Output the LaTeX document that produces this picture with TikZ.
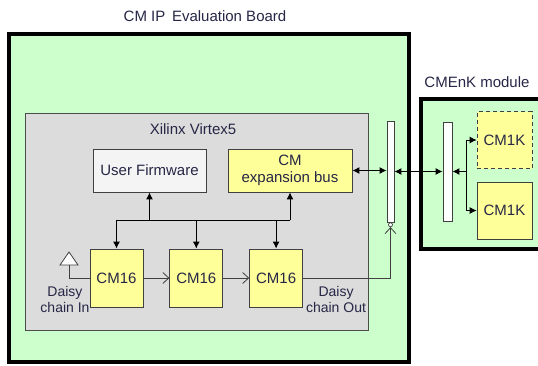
\documentclass[tikz,border=0pt]{standalone}
\usepackage{fontspec}
\setmainfont{Liberation Sans}
\usetikzlibrary{arrows.meta, positioning}
\definecolor{boardgreen}{HTML}{CCFFCC}
\definecolor{fpgagray}{HTML}{DCDCDC}
\definecolor{cmyellow}{HTML}{FFFF99}
\definecolor{fwwhite}{HTML}{F4F4F4}
\definecolor{ink}{HTML}{262646}
\tikzset{
  board/.style={draw=black, line width=3.5pt, fill=boardgreen},
  fpga/.style={draw=black!70, line width=0.8pt, fill=fpgagray},
  chip/.style={rectangle, draw=black!75, line width=0.8pt, fill=cmyellow,
               text=ink, align=center, inner sep=0pt,
               font=\fontsize{15}{17}\selectfont},
  cmbox/.style={chip, minimum width=53pt, minimum height=58pt},
  kbox/.style={chip, minimum width=55pt, minimum height=57pt},
  conn/.style={rectangle, draw=black!75, line width=0.8pt, fill=white,
               minimum width=7pt, minimum height=101pt, inner sep=0pt},
  caption/.style={text=ink, align=center, font=\fontsize{15}{17}\selectfont},
  small/.style={text=ink, align=center, font=\fontsize{14}{16}\selectfont},
  bus/.style={line width=1pt, draw=black},
  busarrow/.style={bus, -{Latex[length=7pt,width=7pt]}},
  twoway/.style={bus, {Latex[length=7pt,width=7pt]}-{Latex[length=7pt,width=7pt]}},
  daisy/.style={line width=0.8pt, draw=black!75, -{Straight Barb[length=6pt,width=11pt]}},
}
\begin{document}
\begin{tikzpicture}[x=1pt, y=-1pt, node distance=26pt]
  \useasboundingbox (0,0) rectangle (538,365);
  \clip (0,0) rectangle (538,365);

  % boards
  \node [caption] (boardtitle) at (205,16) {CM IP\, Evaluation Board};
  \draw [board] (9,34) rectangle (409,362);
  \node [caption] (modtitle) at (477,82) {CMEnK module};
  \draw [board] (421,99) rectangle (548,249);

  % FPGA
  \draw [fpga] (25,113) rectangle (368,330);
  \node [caption] (fpgatitle) at (193,129) {Xilinx Virtex5};
  \node [chip, fill=fwwhite, minimum width=113pt, minimum height=43pt] (uf) at (149.5,170.5) {User Firmware};
  \node [chip, minimum width=124pt, minimum height=43pt] (cmx) at (290,170.5) {CM\\expansion bus};

  \node [cmbox] (cm16a) at (116.5,278) {CM16};
  \node [cmbox, right=of cm16a] (cm16b) {CM16};
  \node [cmbox, right=of cm16b] (cm16c) {CM16};

  % connectors
  \node [conn] (bar1) at (390.5,171.5) {};
  \node [conn, minimum width=9pt, minimum height=99pt] (bar2) at (447.5,171.5) {};
  \node [circle, draw=black!75, fill=white, line width=0.7pt, inner sep=0pt,
         minimum size=4pt, below=0pt of bar1] (dot) {};

  % CM1K chips
  \node [kbox, dash pattern=on 4pt off 3pt] (cm1ka) at (504.5,140) {CM1K};
  \node [kbox] (cm1kb) at (504.5,210.5) {CM1K};

  % internal bus
  \coordinate (busL) at (116.5,220);
  \coordinate (busR) at (290,220);
  \draw [bus] (busL) -- (busR);
  \draw [busarrow] (busL -| uf.south) -- (uf.south);
  \draw [busarrow] (busR) -- (cmx.south);
  \draw [busarrow] (busL) -- (cm16a.north);
  \draw [busarrow] (busL -| cm16b.north) -- (cm16b.north);
  \draw [busarrow] (busL -| cm16c.north) -- (cm16c.north);

  % expansion links
  \draw [twoway] (cmx.east) -- (cmx.east -| bar1.west);
  \draw [twoway] (bar1.east) -- (bar1.east -| bar2.west);
  \coordinate (split) at (466,171.5);
  \draw [busarrow] (split) -- (bar2.east);
  \draw [busarrow, line width=0.8pt] (split) |- (cm1ka.west);
  \draw [busarrow, line width=0.8pt] (split) |- (cm1kb.west);

  % daisy chain
  \draw [fill=white, draw=black!75, line width=0.8pt] (69,252) -- (78,265) -- (60,265) -- cycle;
  \coordinate (din) at (69,265);
  \draw [line width=0.8pt, draw=black!75] (din) |- (cm16a.west);
  \draw [daisy] (cm16a.east) -- (cm16b.west);
  \draw [daisy] (cm16b.east) -- (cm16c.west);
  \draw [daisy] (cm16c.east) -| (dot.south);
  \node [small] (dinlbl) at (65,299) {Daisy\\chain In};
  \node [small] (doutlbl) at (336,299) {Daisy\\chain Out};
\end{tikzpicture}
\end{document}
